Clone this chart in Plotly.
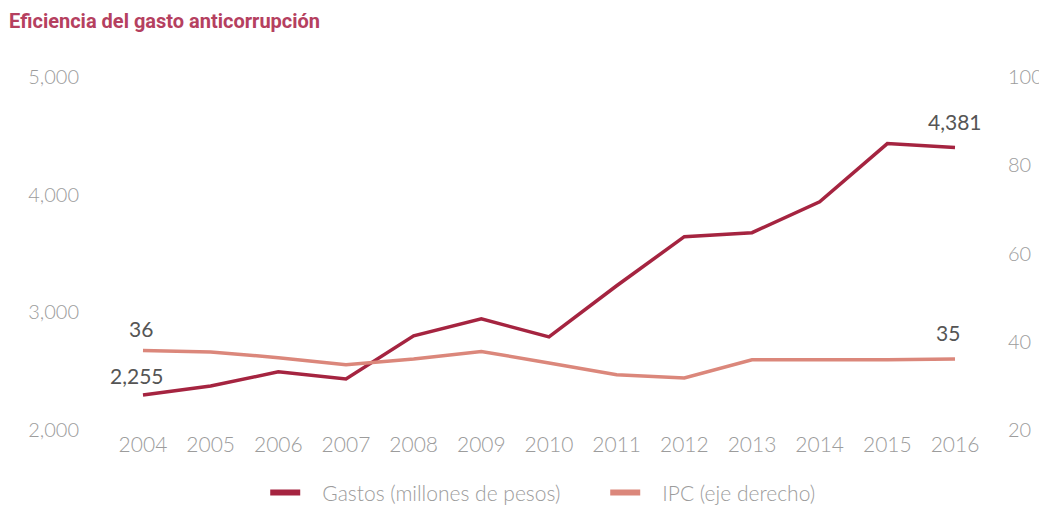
import plotly.graph_objects as go

years = [2004, 2005, 2006, 2007, 2008, 2009, 2010, 2011, 2012, 2013, 2014, 2015, 2016]
gastos = [2298, 2374, 2494, 2434, 2800, 2945, 2791, 3226, 3643, 3677, 3940, 4434, 4400]
ipc = [38.0, 37.7, 36.4, 34.8, 36.1, 37.8, 35.2, 32.5, 31.8, 35.9, 35.9, 35.9, 36.1]

left_ticks = [2000, 3000, 4000, 5000]
right_ticks = [20, 40, 60, 80, 100]

# value labels shown in the chart: (year, series, text)
label_years = [2004, 2004, 2016, 2016]
label_series = ["gastos", "ipc", "gastos", "ipc"]
label_texts = ["2,255", "36", "4,381", "35"]

series_names = ["Gastos (millones de pesos)", "IPC (eje derecho)"]

GASTOS_COLOR = "#a52440"
IPC_COLOR = "#db877b"
TICK_COLOR = "#9c9c9c"
FONT = "Lato"
PAD = "\u00a0" * 3

fig = go.Figure()
fig.add_trace(go.Scatter(x=years, y=gastos, mode="lines", name=series_names[0], showlegend=False,
                         line=dict(color=GASTOS_COLOR, width=3.5), yaxis="y"))
fig.add_trace(go.Scatter(x=years, y=ipc, mode="lines", name=series_names[1], showlegend=False,
                         line=dict(color=IPC_COLOR, width=3.5), yaxis="y2"))
# legend entries (thicker swatches, as in the reference)
fig.add_trace(go.Scatter(x=[None], y=[None], mode="lines", name=PAD + series_names[0],
                         line=dict(color=GASTOS_COLOR, width=6), yaxis="y"))
fig.add_trace(go.Scatter(x=[None], y=[None], mode="lines", name=PAD + series_names[1],
                         line=dict(color=IPC_COLOR, width=6), yaxis="y2"))

shifts = {"gastos": {2004: 19, 2016: 26}, "ipc": {2004: 22, 2016: 26}}
xshifts = {"gastos": {2004: -6, 2016: 0}, "ipc": {2004: -2, 2016: -7}}
for yr, s, t in zip(label_years, label_series, label_texts):
    i = years.index(yr)
    val = gastos[i] if s == "gastos" else ipc[i]
    fig.add_annotation(x=yr, y=val, yref="y" if s == "gastos" else "y2", text=t,
                       showarrow=False, yshift=shifts[s][yr], xshift=xshifts[s][yr],
                       font=dict(family=FONT, size=21, color="#555555"))

fig.update_layout(
    width=1039, height=500,
    margin=dict(l=87, r=60, t=69, b=78, autoexpand=False),
    paper_bgcolor="white", plot_bgcolor="white",
    showlegend=True,
    legend=dict(orientation="h", x=0.572, xanchor="center", y=-0.178, yanchor="middle",
                font=dict(family=FONT, size=21, color=TICK_COLOR, weight=300),
                traceorder="normal", entrywidth=295, entrywidthmode="pixels"),
    title=dict(text="Eficiencia del gasto anticorrupción", x=0.001, xanchor="left", y=0.974, yanchor="middle",
               font=dict(family="Liberation Sans Narrow, Roboto, sans-serif", size=20, color="#b5405f", weight="bold")),
    xaxis=dict(range=[2003.291, 2016.473], tickmode="array", tickvals=years,
               ticktext=[str(y) for y in years], showgrid=False, zeroline=False, showline=False,
               tickfont=dict(family=FONT, size=21, color=TICK_COLOR, weight=300)),
    yaxis=dict(range=[2000, 5000], tickvals=left_ticks, tickformat=",", showgrid=False, zeroline=False,
               showline=False, ticklabelstandoff=15,
               tickfont=dict(family=FONT, size=20, color=TICK_COLOR, weight=300)),
    yaxis2=dict(range=[20, 100], tickvals=right_ticks, overlaying="y", side="right", showgrid=False,
                zeroline=False, showline=False, ticklabelstandoff=20,
                tickfont=dict(family=FONT, size=20, color=TICK_COLOR, weight=300)),
)

fig.write_html("out.html")
